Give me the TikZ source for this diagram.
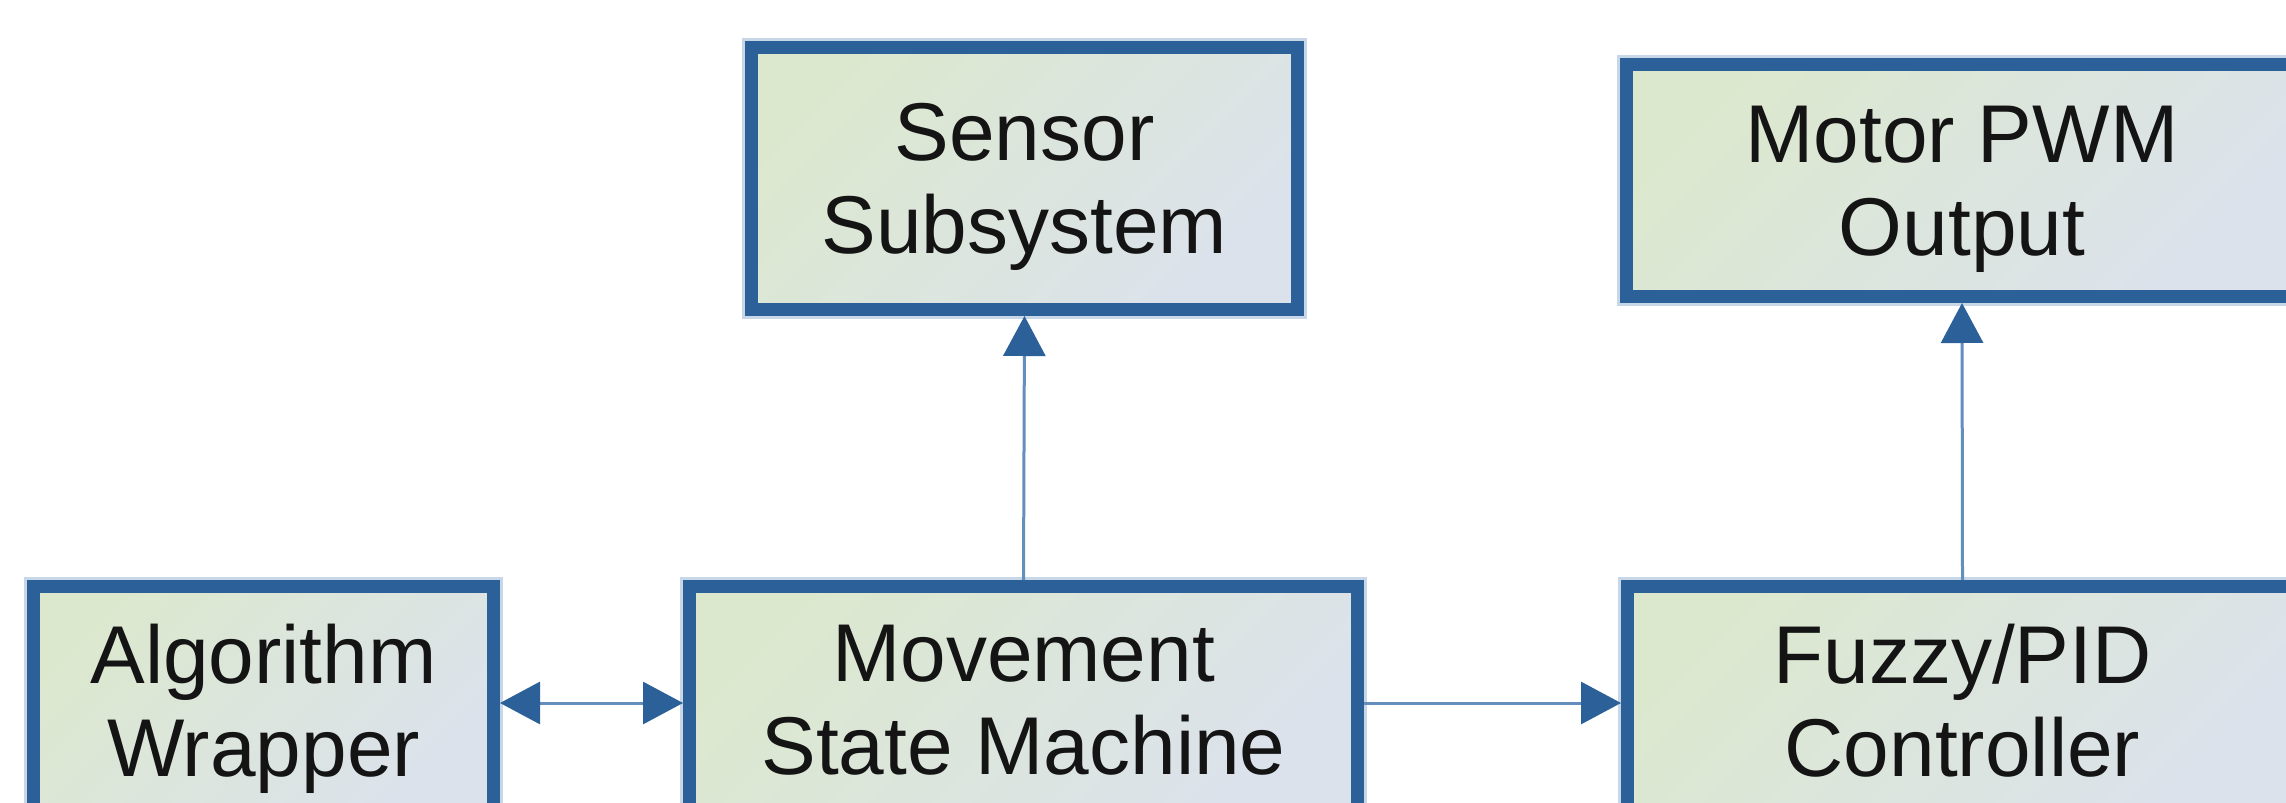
\documentclass[tikz,border=0pt]{standalone}
\usepackage{fontspec}
\setmainfont{Liberation Sans}
\usetikzlibrary{arrows.meta}
\definecolor{boxblue}{RGB}{44,96,153}
\definecolor{linkblue}{RGB}{100,142,190}
\definecolor{halo}{RGB}{200,215,232}
\definecolor{fillA}{RGB}{220,232,206}
\definecolor{fillB}{RGB}{220,226,236}
\definecolor{txt}{RGB}{20,20,20}
\begin{document}
\begin{tikzpicture}[x=0.5pt,y=-0.5pt,
  blk/.style={draw=boxblue, line width=6.5pt, top color=fillA, bottom color=fillB, shading angle=45,
    preaction={draw=halo, line width=9.5pt}, align=center, text=txt,
    font=\fontsize{41}{46.5}\selectfont, text depth=0pt, inner sep=0pt},
  link/.style={draw=linkblue, line width=1.5pt},
  tipend/.style={-{Triangle[length=20pt,width=21pt,color=boxblue]}},
  tipboth/.style={{Triangle[length=20pt,width=21pt,color=boxblue]}-{Triangle[length=20pt,width=21pt,color=boxblue]}}]
\useasboundingbox (0,0) rectangle (2286,803);
\clip (0,0) rectangle (2286,803);
\fill[white] (0,0) rectangle (2286,803);

\node[blk, minimum width=273pt, minimum height=131pt] (sensor) at (1024.5,178.5) {Sensor\\Subsystem};
\node[blk, minimum width=335.5pt, minimum height=116pt] (motor) at (1962,180.5) {Motor PWM\\Output};
\node[blk, minimum width=230pt, minimum height=113.5pt] (algo) at (263.5,700) {Algorithm\\Wrapper};
\node[blk, minimum width=334pt, minimum height=113.5pt] (move) at (1023.5,700) {Movement\\State Machine};
\node[blk, minimum width=335pt, minimum height=113.5pt] (fuzzy) at (1962.5,700) {Fuzzy/PID\\Controller};

\draw[link, tipend] (move.north) -- (sensor.south);
\draw[link, tipend] (fuzzy.north) -- (motor.south);
\draw[link, tipboth] ([yshift=-1.5pt]algo.east) -- ([yshift=-1.5pt]move.west);
\draw[link, tipend] ([yshift=-1.5pt]move.east) -- ([yshift=-1.5pt]fuzzy.west);
\end{tikzpicture}
\end{document}
